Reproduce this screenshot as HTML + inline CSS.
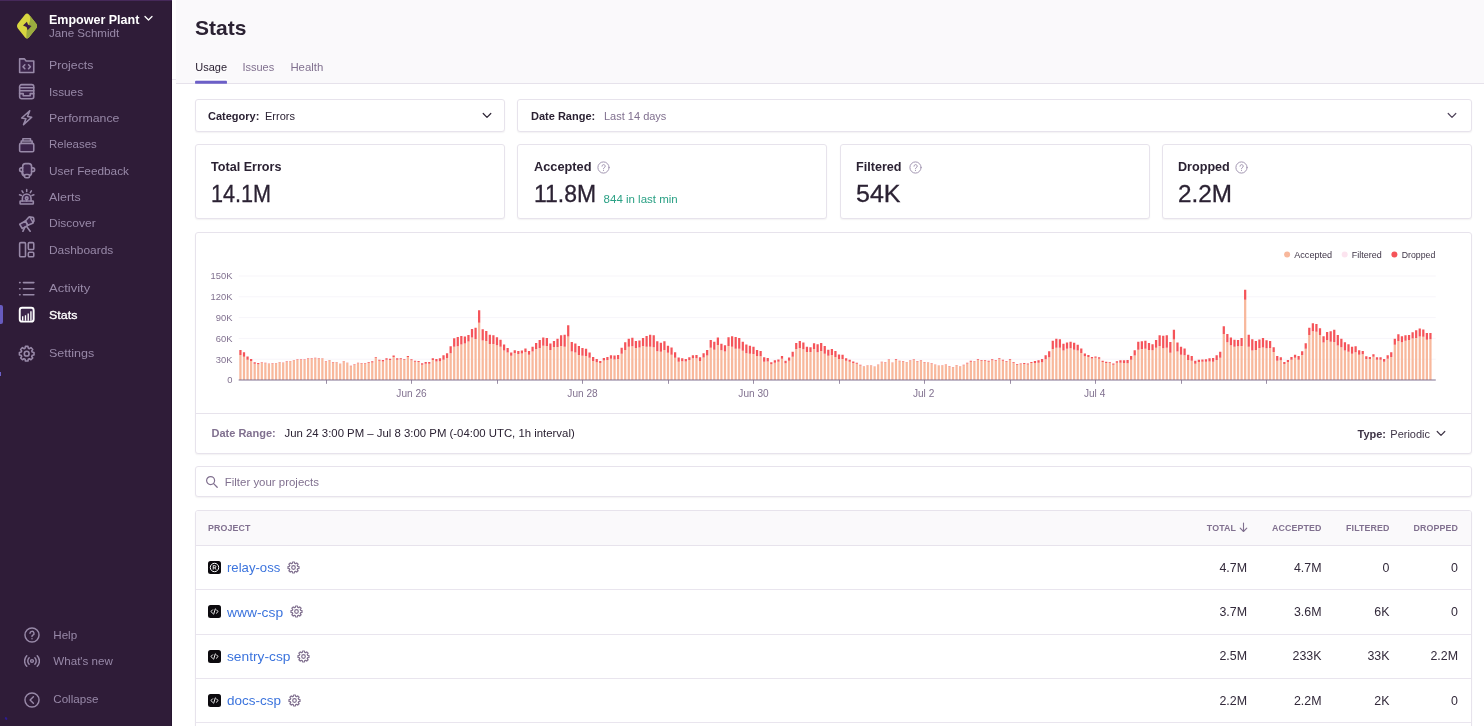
<!DOCTYPE html>
<html lang="en">
<head>
<meta charset="utf-8">
<title>Stats - Sentry</title>
<style>
*{box-sizing:border-box;margin:0;padding:0}
html,body{width:1484px;height:726px;overflow:hidden;background:#fff}
#root{position:absolute;left:0;top:0;width:1484px;height:726px;overflow:hidden;will-change:transform;transform:translateZ(0)}
body{font-family:"Liberation Sans",sans-serif;color:#2b2233;position:relative;-webkit-font-smoothing:antialiased}
.abs{position:absolute}
.t{position:absolute;white-space:nowrap;line-height:1;transform-origin:0 50%}
b,.b{font-weight:bold}
.val{-webkit-text-stroke:.3px #2b2233}
/* sidebar */
#sb{position:absolute;left:0;top:0;width:172px;height:726px;background:#2f1c38;border-right:1px solid #26152f}
#sb .nav{position:absolute;left:49.2px;color:#9889a8;font-size:11.6px;white-space:nowrap;line-height:1;transform-origin:0 50%}
#sb .nav.on{color:#fff;-webkit-text-stroke:.3px #fff}
#sb svg.ic{position:absolute;left:18.3px;width:17.4px;height:17.4px;fill:none;stroke:#9889a8;stroke-width:1.45;stroke-linecap:round;stroke-linejoin:round}
#sb svg.ic.on{stroke:#fff}
#sb svg.ic .f{fill:rgba(125,80,170,.16)}
#sb .low{position:absolute;left:53.3px;color:#9889a8;font-size:11.6px;white-space:nowrap;line-height:1}
#sb svg.lic{position:absolute;left:23.7px;width:16px;height:16px;fill:none;stroke:#9889a8;stroke-width:1.35;stroke-linecap:round;stroke-linejoin:round}
/* header */
#hd{position:absolute;left:176px;top:0;width:1308px;height:84px;background:#faf9fb;border-bottom:1px solid #e6e2eb}
.box{position:absolute;background:#fff;border:1px solid #e7e3ec;border-radius:3px;box-shadow:0 1px 1.500px rgba(43,34,51,.06)}
.sub{color:#80708f}
.chart{position:absolute;left:195px;top:232px}
.ax{font-family:"Liberation Sans",sans-serif;font-size:9.4px;fill:#80708f}
.axx{font-family:"Liberation Sans",sans-serif;font-size:10.1px;fill:#80708f}
.lg{font-family:"Liberation Sans",sans-serif;font-size:9.1px;fill:#3e3446}
.th{position:absolute;font-size:8.85px;font-weight:bold;color:#80708f;white-space:nowrap;line-height:1;letter-spacing:.1px}
.num{position:absolute;font-size:12.4px;white-space:nowrap;line-height:1;text-align:right;color:#332a3b;margin-top:.6px}
.lnk{position:absolute;left:227.1px;color:#3c74dd;font-size:13.1px;white-space:nowrap;line-height:1;transform-origin:0 50%}
.rowline{position:absolute;left:196px;width:1275px;height:1px;background:#e9e5ee}
</style>
</head>
<body>
<div id="root">

<!-- ===================== SIDEBAR ===================== -->
<div id="sb">
  <div class="abs" style="left:0;top:0;width:172px;height:1px;background:#46295a"></div>
  <svg class="abs" style="left:15px;top:12px" width="24" height="28" viewBox="0 0 24 28">
<defs><clipPath id="dm"><path d="M12 1.6c.7 0 1.3.3 1.9.9l7.2 8.9c1.2 1.5 1.2 3.7 0 5.2l-7.2 8.9c-.6.6-1.2.9-1.9.9s-1.3-.3-1.9-.9L2.9 16.6c-1.2-1.500-1.200-3.700 0-5.200l7.200-8.900c.6-.6 1.200-.9 1.900-.9z"/></clipPath></defs>
<g clip-path="url(#dm)"><rect width="24" height="28" fill="#d8d640"/>
<path d="M12.500 0c3 4 3.500 7.500 1.500 11.500-2 4-3 8-2.500 16.500H24V0z" fill="#9aab3f"/>
<path d="M11.900 9.800L8 13.600l3.500 1.300 1.200 3.400 3.800-4.300-3.400-1.200z" fill="#3a1f47"/></g></svg>
  <div class="t b" id="org" style="left:49px;top:13.6px;font-size:12.5px;color:#fff">Empower Plant</div>
  <svg class="abs" style="left:144px;top:15px" width="9" height="7" viewBox="0 0 9 7"><path d="M1 1.5l3.5 3.5L8 1.5" fill="none" stroke="#fff" stroke-width="1.3" stroke-linecap="round" stroke-linejoin="round"/></svg>
  <div class="t" id="usr" style="left:49px;top:27px;font-size:11.6px;color:#9889a8">Jane Schmidt</div>
  <svg class="ic" style="top:56.70px" viewBox="0 0 16 16"><path class="f" d="M1.500 1.700h4.300l1.700 2h7v10.600h-13z"/><path d="M6.300 7.200L4.600 9l1.700 1.800M9.700 7.200L11.400 9l-1.700 1.800"/></svg>
<div class="nav" id="n_Projects" style="top:59.18px;transform:translateY(0.20px) scaleX(1.059)">Projects</div>
<svg class="ic" style="top:83.05px" viewBox="0 0 16 16"><rect class="f" x="1.500" y="1.500" width="13" height="13" rx="1.800"/><path d="M1.500 4.300h13M1.500 7.200h13M1.500 9.800h3.300v1.900h6.400V9.800h3.300"/></svg>
<div class="nav" id="n_Issues" style="top:85.18px;transform:translateY(0.50px) scaleX(1.016)">Issues</div>
<svg class="ic" style="top:109.40px" viewBox="0 0 16 16"><path d="M10.800 1.600L3.400 8.300l3.900.7-2.200 5.400 7.500-6.800-3.900-.7z"/></svg>
<div class="nav" id="n_Performance" style="top:112.18px;transform:translateY(0.00px) scaleX(1.061)">Performance</div>
<svg class="ic" style="top:135.75px" viewBox="0 0 16 16"><rect class="f" x="1.500" y="6.800" width="13" height="7.700" rx="1.200"/><path d="M3 6.800V4.600h10v2.200M4.500 4.600V2.500h7v2.100"/></svg>
<div class="nav" id="n_Releases" style="top:138.18px;transform:translateY(0.10px) scaleX(0.988)">Releases</div>
<svg class="ic" style="top:162.10px" viewBox="0 0 16 16"><rect class="f" x="4.300" y="1.500" width="8.200" height="11" rx="2.600"/><path d="M4.300 5.400H3.200a1.700 1.700 0 0 0 0 3.400h1.100M12.500 5.400h1.100a1.700 1.700 0 0 1 0 3.400h-1.100M3.600 8.800c0 2.600 1 4 2.400 4.300"/><rect x="6" y="11.500" width="4.600" height="3" rx="1.300" fill="#2f1c38"/></svg>
<div class="nav" id="n_UserFeedback" style="top:164.18px;transform:translateY(0.70px) scaleX(1.017)">User Feedback</div>
<svg class="ic" style="top:188.45px" viewBox="0 0 16 16"><rect class="f" x="1.900" y="12" width="12.200" height="2.700" rx=".5"/><path class="f" d="M4 12V9.600a4 4 0 0 1 8 0V12"/><path d="M8 1.400v1.900M3.700 2.700l1 1.500M12.300 2.700l-1 1.500M1.400 6.300l1.800.5M14.600 6.300l-1.800.5M8 10.600V12"/><circle cx="8" cy="9.400" r="1.200"/></svg>
<div class="nav" id="n_Alerts" style="top:190.18px;transform:translateY(0.90px) scaleX(1.069)">Alerts</div>
<svg class="ic" style="top:214.80px" viewBox="0 0 16 16"><path class="f" d="M1.600 8.500l5.200-3 2.300 4-5.200 3z"/><path class="f" d="M6.800 5.500l3.300-3.600c.3-.3.700-.3.900 0l2.800 4.900c.2.300 0 .7-.3.800L9.100 9.500z"/><path d="M11.400 1.900l2.200.3c.4 0 .7.300.8.700l.3 2.700-1 1.200M6.500 11l-2 4M7.800 10.400l3.400 4.600"/></svg>
<div class="nav" id="n_Discover" style="top:217.18px;transform:translateY(0.10px) scaleX(1.034)">Discover</div>
<svg class="ic" style="top:241.15px" viewBox="0 0 16 16"><rect x="1.500" y="1.500" width="5.400" height="13" rx="1"/><rect x="9.500" y="1.500" width="5" height="6.300" rx="1"/><rect x="9.500" y="10.400" width="5" height="4.100" rx="1"/></svg>
<div class="nav" id="n_Dashboards" style="top:243.18px;transform:translateY(0.50px) scaleX(1.028)">Dashboards</div>
<svg class="ic" style="top:280.10px" viewBox="0 0 16 16"><path d="M5 2.400h9.600M5 8h9.600M5 13.600h9.600M1.500 2.400h.4M1.500 8h.4M1.500 13.600h.4"/></svg>
<div class="nav" id="n_Activity" style="top:282.18px;transform:translateY(0.10px) scaleX(1.120)">Activity</div>
<svg class="ic on" style="top:306.35px" viewBox="0 0 16 16"><rect class="f" x="1.600" y="1.600" width="12.800" height="12.800" rx="2.200" stroke-width="1.750"/><path d="M4.300 13.500V9.500M6.900 13.500V8.400M9.400 13.500V6.900M11.900 13.500V4.800" stroke-width="1.250" stroke-linecap="butt"/></svg>
<div class="nav on" id="n_Stats" style="top:308.18px;transform:translateY(0.60px) scaleX(1.073)">Stats</div>
<svg class="ic" style="top:345.10px" viewBox="0 0 16 16"><path d="M6.83 1.30L9.17 1.30L9.48 2.91L10.55 3.36L11.91 2.44L13.56 4.09L12.64 5.45L13.09 6.52L14.70 6.83L14.70 9.17L13.09 9.48L12.64 10.55L13.56 11.91L11.91 13.56L10.55 12.64L9.48 13.09L9.17 14.70L6.83 14.70L6.52 13.09L5.45 12.64L4.09 13.56L2.44 11.91L3.36 10.55L2.91 9.48L1.30 9.17L1.30 6.83L2.91 6.52L3.36 5.45L2.44 4.09L4.09 2.44L5.45 3.36L6.52 2.91z"/><circle cx="8" cy="8" r="2.200"/></svg>
<div class="nav" id="n_Settings" style="top:347.18px;transform:translateY(0.30px) scaleX(1.080)">Settings</div>
<svg class="lic" style="top:626.70px" viewBox="0 0 15 15"><circle cx="7.500" cy="7.500" r="6.600"/><path d="M5.600 5.900a1.900 1.900 0 1 1 2.700 1.800c-.6.300-.8.700-.8 1.300"/><path d="M7.500 10.900v.1"/></svg>
<div class="low" id="l_Help" style="top:628.18px;transform:translateY(0.60px)">Help</div>
<svg class="lic" style="top:653.10px" viewBox="0 0 15 15"><circle cx="7.500" cy="7.500" r="1.300"/><path d="M4.800 4.500a4.200 4.200 0 0 0 0 6M10.200 4.500a4.200 4.200 0 0 1 0 6M2.600 2.500a7.100 7.100 0 0 0 0 10M12.400 2.500a7.100 7.100 0 0 1 0 10"/></svg>
<div class="low" id="l_What" style="top:654.18px;transform:translateY(0.60px)">What's new</div>
<svg class="lic" style="top:691.80px" viewBox="0 0 15 15"><circle cx="7.500" cy="7.500" r="6.600"/><path d="M8.800 4.500L5.700 7.500l3.100 3"/></svg>
<div class="low" id="l_Coll" style="top:693.18px;transform:translateY(0.10px)">Collapse</div>
  <div class="abs" style="left:5px;top:717.4px;width:2.2px;height:2.8px;background:#2d1b8f;border-radius:1px;transform:rotate(-35deg)"></div>
  <div class="abs" style="left:0;top:372px;width:1px;height:4px;background:#6c5fc7"></div>
  <div class="abs" style="left:0;top:305px;width:2.5px;height:18.5px;background:#675bbf;border-radius:0 2px 2px 0"></div>
</div>

<!-- ===================== HEADER ===================== -->
<div id="hd"></div>
<div class="t b" id="title" style="left:195px;top:17px;font-size:21px">Stats</div>
<div class="t" id="tab1" style="left:195.3px;top:61.8px;font-size:11px">Usage</div>
<div class="t sub" id="tab2" style="left:242.4px;top:61.8px;font-size:11px">Issues</div>
<div class="t sub" id="tab3" style="left:290.4px;top:61.8px;font-size:11.4px">Health</div>
<div class="abs" style="left:172px;top:79px;width:4px;height:1px;background:#ebe8ef"></div>
<div class="abs" style="left:195px;top:79px;width:32px;height:1px;background:#fff"></div>
<svg class="abs" style="left:194px;top:79px" width="34" height="6" viewBox="194 79 34 6"><rect x="195.07" y="80.7" width="31.9" height="3.1" rx=".9" fill="#6c5fc7"/></svg>

<!-- ===================== FILTERS ===================== -->
<div class="box" style="left:195px;top:99px;width:310px;height:33px"></div>
<div class="box" style="left:517px;top:99px;width:955px;height:33px"></div>
<div class="t b" id="f1a" style="left:208px;top:110.7px;font-size:11px">Category:</div>
<div class="t" id="f1b" style="left:265px;top:110.7px;font-size:11px">Errors</div>
<svg class="abs" style="left:482px;top:112px" width="10" height="7" viewBox="0 0 10 7"><path d="M1.2 1.5L5 5.3 8.8 1.5" fill="none" stroke="#2b2233" stroke-width="1.2" stroke-linecap="round" stroke-linejoin="round"/></svg>
<div class="t b" id="f2a" style="left:531px;top:110.7px;font-size:11px">Date Range:</div>
<div class="t sub" id="f2b" style="left:604px;top:110.7px;font-size:11px">Last 14 days</div>
<svg class="abs" style="left:1447px;top:112px" width="10" height="7" viewBox="0 0 10 7"><path d="M1.2 1.5L5 5.3 8.8 1.5" fill="none" stroke="#4d4158" stroke-width="1.2" stroke-linecap="round" stroke-linejoin="round"/></svg>

<!-- ===================== CARDS ===================== -->
<div class="box" style="left:195px;top:144px;width:310px;height:75px"></div>
<div class="box" style="left:517px;top:144px;width:310px;height:75px"></div>
<div class="box" style="left:840px;top:144px;width:310px;height:75px"></div>
<div class="box" style="left:1162px;top:144px;width:310px;height:75px"></div>

<div class="t b" id="c1t" style="left:211px;top:160.5px;font-size:12.6px">Total Errors</div>
<div id="c1v" class="t val" style="left:211.3px;top:181.6px;font-size:24.4px;transform:scaleX(.887)">14.1M</div>
<div class="t b" id="c2t" style="left:533.7px;transform:scaleX(1.015);top:160.5px;font-size:12.6px">Accepted</div>
<div id="c2v" class="t val" style="left:533.6px;top:181.6px;font-size:24.4px;transform:scaleX(.94)">11.8M</div>
<div class="t" id="c2s" style="left:603.6px;top:193.6px;font-size:11.5px;color:#2ba185">844 in last min</div>
<div class="t b" id="c3t" style="left:856px;top:160.5px;font-size:12.6px">Filtered</div>
<div id="c3v" class="t val" style="left:856.2px;top:181.6px;font-size:24.4px;transform:scaleX(1.025)">54K</div>
<div class="t b" id="c4t" style="left:1178px;top:160.5px;font-size:12.6px">Dropped</div>
<div id="c4v" class="t val" style="left:1178.2px;top:181.6px;font-size:24.4px;transform:scaleX(.995)">2.2M</div>
<svg class="abs" style="left:597.4px;top:160.7px" width="13" height="13" viewBox="0 0 13 13" fill="none" stroke="#a296b1" stroke-width="1" stroke-linecap="round"><circle cx="6.500" cy="6.500" r="5.600"/><path d="M5 5.200a1.600 1.600 0 1 1 2.200 1.500c-.5.200-.7.600-.7 1.100"/><path d="M6.500 9.400v.1"/></svg>
<svg class="abs" style="left:908.5px;top:160.7px" width="13" height="13" viewBox="0 0 13 13" fill="none" stroke="#a296b1" stroke-width="1" stroke-linecap="round"><circle cx="6.500" cy="6.500" r="5.600"/><path d="M5 5.200a1.600 1.600 0 1 1 2.200 1.500c-.5.200-.7.600-.7 1.100"/><path d="M6.500 9.400v.1"/></svg>
<svg class="abs" style="left:1235.2px;top:160.7px" width="13" height="13" viewBox="0 0 13 13" fill="none" stroke="#a296b1" stroke-width="1" stroke-linecap="round"><circle cx="6.500" cy="6.500" r="5.600"/><path d="M5 5.200a1.600 1.600 0 1 1 2.200 1.500c-.5.200-.7.600-.7 1.100"/><path d="M6.500 9.400v.1"/></svg>

<!-- ===================== CHART PANEL ===================== -->
<div class="box" style="left:195px;top:232px;width:1277px;height:222px"></div>
<svg class="chart" width="1276" height="181" viewBox="195 232 1276 181">
<rect x="238.65" y="358.7" width="1197.13" height="1" fill="#f7f5fa"/>
<rect x="238.65" y="337.9" width="1197.13" height="1" fill="#f7f5fa"/>
<rect x="238.65" y="317.1" width="1197.13" height="1" fill="#f7f5fa"/>
<rect x="238.65" y="296.3" width="1197.13" height="1" fill="#f7f5fa"/>
<rect x="238.65" y="275.5" width="1197.13" height="1" fill="#f7f5fa"/>
<path fill="#f8b89c" d="M239.31 380.00v-25.10h2.25v25.10zM242.87 380.00v-23.15h2.25v23.15zM246.43 380.00v-20.15h2.25v20.15zM250.00 380.00v-18.95h2.25v18.95zM253.56 380.00v-16.15h2.25v16.15zM257.12 380.00v-15.85h2.25v15.85zM260.68 380.00v-17.35h2.25v17.35zM264.25 380.00v-16.85h2.25v16.85zM267.81 380.00v-16.15h2.25v16.15zM271.37 380.00v-16.35h2.25v16.35zM274.94 380.00v-16.75h2.25v16.75zM278.50 380.00v-17.75h2.25v17.75zM282.06 380.00v-17.25h2.25v17.25zM285.62 380.00v-18.35h2.25v18.35zM289.19 380.00v-18.65h2.25v18.65zM292.75 380.00v-19.65h2.25v19.65zM296.31 380.00v-20.25h2.25v20.25zM299.88 380.00v-20.25h2.25v20.25zM303.44 380.00v-20.05h2.25v20.05zM307.00 380.00v-21.35h2.25v21.35zM310.56 380.00v-21.35h2.25v21.35zM314.13 380.00v-21.65h2.25v21.65zM317.69 380.00v-21.15h2.25v21.15zM321.25 380.00v-21.45h2.25v21.45zM324.82 380.00v-18.25h2.25v18.25zM328.38 380.00v-19.65h2.25v19.65zM331.94 380.00v-17.55h2.25v17.55zM335.50 380.00v-17.65h2.25v17.65zM339.07 380.00v-15.95h2.25v15.95zM342.63 380.00v-18.65h2.25v18.65zM346.19 380.00v-16.95h2.25v16.95zM349.76 380.00v-13.85h2.25v13.85zM353.32 380.00v-15.35h2.25v15.35zM356.88 380.00v-16.75h2.25v16.75zM360.45 380.00v-16.55h2.25v16.55zM364.01 380.00v-16.55h2.25v16.55zM367.57 380.00v-17.35h2.25v17.35zM371.13 380.00v-17.55h2.25v17.55zM374.70 380.00v-21.95h2.25v21.95zM378.26 380.00v-19.15h2.25v19.15zM381.82 380.00v-18.45h2.25v18.45zM385.39 380.00v-20.15h2.25v20.15zM388.95 380.00v-19.95h2.25v19.95zM392.51 380.00v-22.95h2.25v22.95zM396.07 380.00v-20.15h2.25v20.15zM399.64 380.00v-20.65h2.25v20.65zM403.20 380.00v-19.95h2.25v19.95zM406.76 380.00v-22.95h2.25v22.95zM410.33 380.00v-19.85h2.25v19.85zM413.89 380.00v-18.15h2.25v18.15zM417.45 380.00v-17.95h2.25v17.95zM421.01 380.00v-15.15h2.25v15.15zM424.58 380.00v-16.25h2.25v16.25zM428.14 380.00v-16.35h2.25v16.35zM431.70 380.00v-19.95h2.25v19.95zM435.27 380.00v-18.45h2.25v18.45zM438.83 380.00v-18.75h2.25v18.75zM442.39 380.00v-20.35h2.25v20.35zM445.95 380.00v-22.05h2.25v22.05zM449.52 380.00v-26.75h2.25v26.75zM453.08 380.00v-33.25h2.25v33.25zM456.64 380.00v-33.85h2.25v33.85zM460.21 380.00v-35.55h2.25v35.55zM463.77 380.00v-36.55h2.25v36.55zM467.33 380.00v-38.55h2.25v38.55zM470.89 380.00v-42.55h2.25v42.55zM474.46 380.00v-41.05h2.25v41.05zM478.02 380.00v-57.20h2.25v57.20zM481.58 380.00v-39.50h2.25v39.50zM485.15 380.00v-39.00h2.25v39.00zM488.71 380.00v-36.10h2.25v36.10zM492.27 380.00v-36.10h2.25v36.10zM495.84 380.00v-34.70h2.25v34.70zM499.40 380.00v-33.20h2.25v33.20zM502.96 380.00v-29.50h2.25v29.50zM506.52 380.00v-27.40h2.25v27.40zM510.09 380.00v-24.30h2.25v24.30zM513.65 380.00v-27.10h2.25v27.10zM517.21 380.00v-26.10h2.25v26.10zM520.78 380.00v-26.40h2.25v26.40zM524.34 380.00v-27.90h2.25v27.90zM527.90 380.00v-25.30h2.25v25.30zM531.46 380.00v-28.50h2.25v28.50zM535.03 380.00v-31.00h2.25v31.00zM538.59 380.00v-32.10h2.25v32.10zM542.15 380.00v-34.20h2.25v34.20zM545.72 380.00v-34.00h2.25v34.00zM549.28 380.00v-30.00h2.25v30.00zM552.84 380.00v-32.90h2.25v32.90zM556.40 380.00v-33.10h2.25v33.10zM559.97 380.00v-34.00h2.25v34.00zM563.53 380.00v-33.20h2.25v33.20zM567.09 380.00v-43.60h2.25v43.60zM570.66 380.00v-28.50h2.25v28.50zM574.22 380.00v-27.40h2.25v27.40zM577.78 380.00v-25.00h2.25v25.00zM581.34 380.00v-24.20h2.25v24.20zM584.91 380.00v-24.00h2.25v24.00zM588.47 380.00v-22.20h2.25v22.20zM592.03 380.00v-19.00h2.25v19.00zM595.60 380.00v-17.70h2.25v17.70zM599.16 380.00v-16.90h2.25v16.90zM602.72 380.00v-19.40h2.25v19.40zM606.29 380.00v-20.10h2.25v20.10zM609.85 380.00v-21.30h2.25v21.30zM613.41 380.00v-20.60h2.25v20.60zM616.97 380.00v-21.10h2.25v21.10zM620.54 380.00v-26.30h2.25v26.30zM624.10 380.00v-30.05h2.25v30.05zM627.66 380.00v-33.15h2.25v33.15zM631.23 380.00v-33.85h2.25v33.85zM634.79 380.00v-31.95h2.25v31.95zM638.35 380.00v-32.45h2.25v32.45zM641.91 380.00v-34.05h2.25v34.05zM645.48 380.00v-33.15h2.25v33.15zM649.04 380.00v-33.15h2.25v33.15zM652.60 380.00v-32.85h2.25v32.85zM656.17 380.00v-28.85h2.25v28.85zM659.73 380.00v-28.25h2.25v28.25zM663.29 380.00v-29.95h2.25v29.95zM666.85 380.00v-27.15h2.25v27.15zM670.42 380.00v-25.25h2.25v25.25zM673.98 380.00v-22.15h2.25v22.15zM677.54 380.00v-18.25h2.25v18.25zM681.11 380.00v-18.75h2.25v18.75zM684.67 380.00v-18.45h2.25v18.45zM688.23 380.00v-20.05h2.25v20.05zM691.79 380.00v-21.75h2.25v21.75zM695.36 380.00v-21.65h2.25v21.65zM698.92 380.00v-19.05h2.25v19.05zM702.48 380.00v-22.45h2.25v22.45zM706.05 380.00v-24.45h2.25v24.45zM709.61 380.00v-32.25h2.25v32.25zM713.17 380.00v-30.35h2.25v30.35zM716.74 380.00v-34.95h2.25v34.95zM720.30 380.00v-29.75h2.25v29.75zM723.86 380.00v-28.55h2.25v28.55zM727.42 380.00v-34.05h2.25v34.05zM730.99 380.00v-33.15h2.25v33.15zM734.55 380.00v-31.35h2.25v31.35zM738.11 380.00v-31.35h2.25v31.35zM741.68 380.00v-29.15h2.25v29.15zM745.24 380.00v-26.75h2.25v26.75zM748.80 380.00v-26.15h2.25v26.15zM752.36 380.00v-26.05h2.25v26.05zM755.93 380.00v-24.05h2.25v24.05zM759.49 380.00v-23.75h2.25v23.75zM763.05 380.00v-18.25h2.25v18.25zM766.62 380.00v-18.45h2.25v18.45zM770.18 380.00v-15.75h2.25v15.75zM773.74 380.00v-17.25h2.25v17.25zM777.30 380.00v-18.15h2.25v18.15zM780.87 380.00v-21.25h2.25v21.25zM784.43 380.00v-16.65h2.25v16.65zM787.99 380.00v-19.15h2.25v19.15zM791.56 380.00v-23.35h2.25v23.35zM795.12 380.00v-31.05h2.25v31.05zM798.68 380.00v-31.95h2.25v31.95zM802.24 380.00v-30.85h2.25v30.85zM805.81 380.00v-27.95h2.25v27.95zM809.37 380.00v-28.05h2.25v28.05zM812.93 380.00v-31.05h2.25v31.05zM816.50 380.00v-27.85h2.25v27.85zM820.06 380.00v-28.95h2.25v28.95zM823.62 380.00v-26.25h2.25v26.25zM827.18 380.00v-24.25h2.25v24.25zM830.75 380.00v-24.95h2.25v24.95zM834.31 380.00v-23.05h2.25v23.05zM837.87 380.00v-21.05h2.25v21.05zM841.44 380.00v-21.05h2.25v21.05zM845.00 380.00v-19.15h2.25v19.15zM848.56 380.00v-18.25h2.25v18.25zM852.13 380.00v-17.05h2.25v17.05zM855.69 380.00v-16.25h2.25v16.25zM859.25 380.00v-14.55h2.25v14.55zM862.81 380.00v-13.55h2.25v13.55zM866.38 380.00v-14.55h2.25v14.55zM869.94 380.00v-14.55h2.25v14.55zM873.50 380.00v-13.15h2.25v13.15zM877.07 380.00v-15.15h2.25v15.15zM880.63 380.00v-17.75h2.25v17.75zM884.19 380.00v-17.35h2.25v17.35zM887.75 380.00v-20.05h2.25v20.05zM891.32 380.00v-17.15h2.25v17.15zM894.88 380.00v-20.35h2.25v20.35zM898.44 380.00v-18.65h2.25v18.65zM902.01 380.00v-18.55h2.25v18.55zM905.57 380.00v-17.65h2.25v17.65zM909.13 380.00v-19.05h2.25v19.05zM912.69 380.00v-20.25h2.25v20.25zM916.26 380.00v-18.55h2.25v18.55zM919.82 380.00v-19.35h2.25v19.35zM923.38 380.00v-17.55h2.25v17.55zM926.95 380.00v-17.45h2.25v17.45zM930.51 380.00v-16.35h2.25v16.35zM934.07 380.00v-15.25h2.25v15.25zM937.63 380.00v-14.25h2.25v14.25zM941.20 380.00v-14.55h2.25v14.55zM944.76 380.00v-15.45h2.25v15.45zM948.32 380.00v-13.35h2.25v13.35zM951.89 380.00v-12.65h2.25v12.65zM955.45 380.00v-14.65h2.25v14.65zM959.01 380.00v-13.55h2.25v13.55zM962.58 380.00v-14.85h2.25v14.85zM966.14 380.00v-16.55h2.25v16.55zM969.70 380.00v-18.35h2.25v18.35zM973.26 380.00v-18.15h2.25v18.15zM976.83 380.00v-19.95h2.25v19.95zM980.39 380.00v-19.25h2.25v19.25zM983.95 380.00v-19.05h2.25v19.05zM987.52 380.00v-18.35h2.25v18.35zM991.08 380.00v-19.85h2.25v19.85zM994.64 380.00v-19.05h2.25v19.05zM998.20 380.00v-20.95h2.25v20.95zM1001.77 380.00v-19.35h2.25v19.35zM1005.33 380.00v-18.05h2.25v18.05zM1008.89 380.00v-20.15h2.25v20.15zM1012.46 380.00v-17.25h2.25v17.25zM1016.02 380.00v-15.25h2.25v15.25zM1019.58 380.00v-15.75h2.25v15.75zM1023.14 380.00v-16.05h2.25v16.05zM1026.71 380.00v-15.45h2.25v15.45zM1030.27 380.00v-16.95h2.25v16.95zM1033.83 380.00v-16.95h2.25v16.95zM1037.40 380.00v-17.25h2.25v17.25zM1040.96 380.00v-17.85h2.25v17.85zM1044.52 380.00v-20.85h2.25v20.85zM1048.08 380.00v-22.65h2.25v22.65zM1051.65 380.00v-31.05h2.25v31.05zM1055.21 380.00v-32.25h2.25v32.25zM1058.77 380.00v-32.25h2.25v32.25zM1062.34 380.00v-29.45h2.25v29.45zM1065.90 380.00v-31.35h2.25v31.35zM1069.46 380.00v-31.75h2.25v31.75zM1073.03 380.00v-30.35h2.25v30.35zM1076.59 380.00v-29.45h2.25v29.45zM1080.15 380.00v-26.95h2.25v26.95zM1083.71 380.00v-23.75h2.25v23.75zM1087.28 380.00v-23.05h2.25v23.05zM1090.84 380.00v-21.45h2.25v21.45zM1094.40 380.00v-22.15h2.25v22.15zM1097.97 380.00v-21.25h2.25v21.25zM1101.53 380.00v-18.05h2.25v18.05zM1105.09 380.00v-17.05h2.25v17.05zM1108.65 380.00v-17.15h2.25v17.15zM1112.22 380.00v-15.25h2.25v15.25zM1115.78 380.00v-17.15h2.25v17.15zM1119.34 380.00v-17.25h2.25v17.25zM1122.91 380.00v-17.05h2.25v17.05zM1126.47 380.00v-16.85h2.25v16.85zM1130.03 380.00v-20.25h2.25v20.25zM1133.59 380.00v-24.45h2.25v24.45zM1137.16 380.00v-30.35h2.25v30.35zM1140.72 380.00v-31.05h2.25v31.05zM1144.28 380.00v-31.35h2.25v31.35zM1147.85 380.00v-30.05h2.25v30.05zM1151.41 380.00v-29.85h2.25v29.85zM1154.97 380.00v-32.25h2.25v32.25zM1158.53 380.00v-34.05h2.25v34.05zM1162.10 380.00v-31.65h2.25v31.65zM1165.66 380.00v-32.25h2.25v32.25zM1169.22 380.00v-27.25h2.25v27.25zM1172.79 380.00v-40.55h2.25v40.55zM1176.35 380.00v-28.55h2.25v28.55zM1179.91 380.00v-25.35h2.25v25.35zM1183.47 380.00v-24.85h2.25v24.85zM1187.04 380.00v-20.05h2.25v20.05zM1190.60 380.00v-19.35h2.25v19.35zM1194.16 380.00v-16.25h2.25v16.25zM1197.73 380.00v-18.05h2.25v18.05zM1201.29 380.00v-18.15h2.25v18.15zM1204.85 380.00v-18.15h2.25v18.15zM1208.42 380.00v-18.45h2.25v18.45zM1211.98 380.00v-18.15h2.25v18.15zM1215.54 380.00v-20.05h2.25v20.05zM1219.10 380.00v-22.35h2.25v22.35zM1222.67 380.00v-45.95h2.25v45.95zM1226.23 380.00v-37.75h2.25v37.75zM1229.79 380.00v-34.65h2.25v34.65zM1233.36 380.00v-33.15h2.25v33.15zM1236.92 380.00v-33.65h2.25v33.65zM1240.48 380.00v-34.05h2.25v34.05zM1244.04 380.00v-80.15h2.25v80.15zM1247.61 380.00v-33.15h2.25v33.15zM1251.17 380.00v-29.45h2.25v29.45zM1254.73 380.00v-29.95h2.25v29.95zM1258.30 380.00v-31.95h2.25v31.95zM1261.86 380.00v-32.55h2.25v32.55zM1265.42 380.00v-31.75h2.25v31.75zM1268.98 380.00v-31.95h2.25v31.95zM1272.55 380.00v-27.95h2.25v27.95zM1276.11 380.00v-19.35h2.25v19.35zM1279.67 380.00v-19.65h2.25v19.65zM1283.24 380.00v-16.05h2.25v16.05zM1286.80 380.00v-18.05h2.25v18.05zM1290.36 380.00v-20.35h2.25v20.35zM1293.92 380.00v-22.15h2.25v22.15zM1297.49 380.00v-20.25h2.25v20.25zM1301.05 380.00v-24.95h2.25v24.95zM1304.61 380.00v-31.35h2.25v31.35zM1308.18 380.00v-45.05h2.25v45.05zM1311.74 380.00v-48.75h2.25v48.75zM1315.30 380.00v-48.25h2.25v48.25zM1318.87 380.00v-45.05h2.25v45.05zM1322.43 380.00v-37.45h2.25v37.45zM1325.99 380.00v-39.95h2.25v39.95zM1329.55 380.00v-38.25h2.25v38.25zM1333.12 380.00v-38.05h2.25v38.05zM1336.68 380.00v-34.55h2.25v34.55zM1340.24 380.00v-32.65h2.25v32.65zM1343.81 380.00v-29.55h2.25v29.55zM1347.37 380.00v-28.25h2.25v28.25zM1350.93 380.00v-26.25h2.25v26.25zM1354.49 380.00v-27.65h2.25v27.65zM1358.06 380.00v-25.15h2.25v25.15zM1361.62 380.00v-25.85h2.25v25.85zM1365.18 380.00v-21.05h2.25v21.05zM1368.75 380.00v-20.95h2.25v20.95zM1372.31 380.00v-23.15h2.25v23.15zM1375.87 380.00v-20.25h2.25v20.25zM1379.43 380.00v-20.25h2.25v20.25zM1383.00 380.00v-18.25h2.25v18.25zM1386.56 380.00v-21.25h2.25v21.25zM1390.12 380.00v-23.05h2.25v23.05zM1393.69 380.00v-35.25h2.25v35.25zM1397.25 380.00v-38.95h2.25v38.95zM1400.81 380.00v-37.75h2.25v37.75zM1404.37 380.00v-39.25h2.25v39.25zM1407.94 380.00v-40.05h2.25v40.05zM1411.50 380.00v-41.45h2.25v41.45zM1415.06 380.00v-42.05h2.25v42.05zM1418.63 380.00v-43.55h2.25v43.55zM1422.19 380.00v-43.15h2.25v43.15zM1425.75 380.00v-40.25h2.25v40.25zM1429.32 380.00v-40.75h2.25v40.75z"/>
<path fill="#f55459" d="M239.31 354.90v-4.80h2.25v4.80zM242.87 356.85v-4.70h2.25v4.70zM246.43 359.85v-3.30h2.25v3.30zM250.00 361.05v-2.10h2.25v2.10zM253.56 363.85v-1.70h2.25v1.70zM257.12 364.15v-1.10h2.25v1.10zM260.68 362.65v-0.50h2.25v0.50zM264.25 363.15v-0.40h2.25v0.40zM267.81 363.85v-0.30h2.25v0.30zM271.37 363.65v-0.30h2.25v0.30zM274.94 363.25v-0.30h2.25v0.30zM278.50 362.25v-0.30h2.25v0.30zM282.06 362.75v-0.30h2.25v0.30zM285.62 361.65v-0.30h2.25v0.30zM289.19 361.35v-0.30h2.25v0.30zM292.75 360.35v-0.30h2.25v0.30zM296.31 359.75v-0.40h2.25v0.40zM299.88 359.75v-0.50h2.25v0.50zM303.44 359.95v-0.50h2.25v0.50zM307.00 358.65v-0.50h2.25v0.50zM310.56 358.65v-0.50h2.25v0.50zM314.13 358.35v-0.50h2.25v0.50zM317.69 358.85v-0.50h2.25v0.50zM321.25 358.55v-0.40h2.25v0.40zM324.82 361.75v-0.40h2.25v0.40zM328.38 360.35v-0.30h2.25v0.30zM331.94 362.45v-0.40h2.25v0.40zM335.50 362.35v-0.40h2.25v0.40zM339.07 364.05v-0.30h2.25v0.30zM342.63 361.35v-0.30h2.25v0.30zM346.19 363.05v-0.30h2.25v0.30zM349.76 366.15v-0.30h2.25v0.30zM353.32 364.65v-0.30h2.25v0.30zM356.88 363.25v-0.40h2.25v0.40zM360.45 363.45v-0.40h2.25v0.40zM364.01 363.45v-0.40h2.25v0.40zM367.57 362.65v-0.70h2.25v0.70zM371.13 362.45v-1.10h2.25v1.10zM374.70 358.05v-0.80h2.25v0.80zM378.26 360.85v-1.20h2.25v1.20zM381.82 361.55v-1.50h2.25v1.50zM385.39 359.85v-1.70h2.25v1.70zM388.95 360.05v-1.40h2.25v1.40zM392.51 357.05v-1.60h2.25v1.60zM396.07 359.85v-1.70h2.25v1.70zM399.64 359.35v-1.20h2.25v1.20zM403.20 360.05v-0.90h2.25v0.90zM406.76 357.05v-1.00h2.25v1.00zM410.33 360.15v-0.90h2.25v0.90zM413.89 361.85v-1.00h2.25v1.00zM417.45 362.05v-1.00h2.25v1.00zM421.01 364.85v-1.50h2.25v1.50zM424.58 363.75v-1.70h2.25v1.70zM428.14 363.65v-1.60h2.25v1.60zM431.70 360.05v-1.90h2.25v1.90zM435.27 361.55v-2.50h2.25v2.50zM438.83 361.25v-3.10h2.25v3.10zM442.39 359.65v-4.40h2.25v4.40zM445.95 357.95v-4.70h2.25v4.70zM449.52 353.25v-7.10h2.25v7.10zM453.08 346.75v-8.50h2.25v8.50zM456.64 346.15v-9.10h2.25v9.10zM460.21 344.45v-8.40h2.25v8.40zM463.77 343.45v-6.90h2.25v6.90zM467.33 341.45v-6.50h2.25v6.50zM470.89 337.45v-8.40h2.25v8.40zM474.46 338.95v-11.30h2.25v11.30zM478.02 322.80v-12.60h2.25v12.60zM481.58 340.50v-11.30h2.25v11.30zM485.15 341.00v-9.90h2.25v9.90zM488.71 343.90v-9.10h2.25v9.10zM492.27 343.90v-8.60h2.25v8.60zM495.84 345.30v-8.10h2.25v8.10zM499.40 346.80v-7.10h2.25v7.10zM502.96 350.50v-6.00h2.25v6.00zM506.52 352.60v-4.50h2.25v4.50zM510.09 355.70v-3.30h2.25v3.30zM513.65 352.90v-2.70h2.25v2.70zM517.21 353.90v-2.90h2.25v2.90zM520.78 353.60v-3.10h2.25v3.10zM524.34 352.10v-3.60h2.25v3.60zM527.90 354.70v-3.70h2.25v3.70zM531.46 351.50v-4.70h2.25v4.70zM535.03 349.00v-6.10h2.25v6.10zM538.59 347.90v-7.90h2.25v7.90zM542.15 345.80v-8.20h2.25v8.20zM545.72 346.00v-7.90h2.25v7.90zM549.28 350.00v-6.60h2.25v6.60zM552.84 347.10v-6.00h2.25v6.00zM556.40 346.90v-8.10h2.25v8.10zM559.97 346.00v-10.70h2.25v10.70zM563.53 346.80v-12.00h2.25v12.00zM567.09 336.40v-11.20h2.25v11.20zM570.66 351.50v-9.40h2.25v9.40zM574.22 352.60v-9.20h2.25v9.20zM577.78 355.00v-9.00h2.25v9.00zM581.34 355.80v-7.90h2.25v7.90zM584.91 356.00v-7.30h2.25v7.30zM588.47 357.80v-5.20h2.25v5.20zM592.03 361.00v-4.00h2.25v4.00zM595.60 362.30v-3.20h2.25v3.20zM599.16 363.10v-2.10h2.25v2.10zM602.72 360.60v-2.60h2.25v2.60zM606.29 359.90v-2.80h2.25v2.80zM609.85 358.70v-3.50h2.25v3.50zM613.41 359.40v-3.90h2.25v3.90zM616.97 358.90v-4.00h2.25v4.00zM620.54 353.70v-6.00h2.25v6.00zM624.10 349.95v-7.60h2.25v7.60zM627.66 346.85v-8.20h2.25v8.20zM631.23 346.15v-8.50h2.25v8.50zM634.79 348.05v-7.00h2.25v7.00zM638.35 347.55v-7.10h2.25v7.10zM641.91 345.95v-8.00h2.25v8.00zM645.48 346.85v-10.80h2.25v10.80zM649.04 346.85v-12.10h2.25v12.10zM652.60 347.15v-11.90h2.25v11.90zM656.17 351.15v-9.80h2.25v9.80zM659.73 351.75v-9.00h2.25v9.00zM663.29 350.05v-8.70h2.25v8.70zM666.85 352.85v-7.10h2.25v7.10zM670.42 354.75v-7.30h2.25v7.30zM673.98 357.85v-5.70h2.25v5.70zM677.54 361.75v-4.20h2.25v4.20zM681.11 361.25v-3.10h2.25v3.10zM684.67 361.55v-2.60h2.25v2.60zM688.23 359.95v-2.60h2.25v2.60zM691.79 358.25v-3.00h2.25v3.00zM695.36 358.35v-3.40h2.25v3.40zM698.92 360.95v-3.70h2.25v3.70zM702.48 357.55v-4.30h2.25v4.30zM706.05 355.55v-5.50h2.25v5.50zM709.61 347.75v-7.80h2.25v7.80zM713.17 349.65v-8.00h2.25v8.00zM716.74 345.05v-7.50h2.25v7.50zM720.30 350.25v-6.60h2.25v6.60zM723.86 351.45v-6.20h2.25v6.20zM727.42 345.95v-8.70h2.25v8.70zM730.99 346.85v-10.50h2.25v10.50zM734.55 348.65v-11.60h2.25v11.60zM738.11 348.65v-10.70h2.25v10.70zM741.68 350.85v-9.20h2.25v9.20zM745.24 353.25v-8.70h2.25v8.70zM748.80 353.85v-8.20h2.25v8.20zM752.36 353.95v-7.10h2.25v7.10zM755.93 355.95v-6.00h2.25v6.00zM759.49 356.25v-5.30h2.25v5.30zM763.05 361.75v-4.40h2.25v4.40zM766.62 361.55v-3.50h2.25v3.50zM770.18 364.25v-2.00h2.25v2.00zM773.74 362.75v-2.40h2.25v2.40zM777.30 361.85v-2.40h2.25v2.40zM780.87 358.75v-2.70h2.25v2.70zM784.43 363.35v-2.70h2.25v2.70zM787.99 360.85v-3.30h2.25v3.30zM791.56 356.65v-4.80h2.25v4.80zM795.12 348.95v-6.00h2.25v6.00zM798.68 348.05v-7.00h2.25v7.00zM802.24 349.15v-6.60h2.25v6.60zM805.81 352.05v-5.20h2.25v5.20zM809.37 351.95v-4.80h2.25v4.80zM812.93 348.95v-5.80h2.25v5.80zM816.50 352.15v-8.00h2.25v8.00zM820.06 351.05v-8.10h2.25v8.10zM823.62 353.75v-7.80h2.25v7.80zM827.18 355.75v-6.10h2.25v6.10zM830.75 355.05v-6.10h2.25v6.10zM834.31 356.95v-6.00h2.25v6.00zM837.87 358.95v-4.50h2.25v4.50zM841.44 358.95v-4.10h2.25v4.10zM845.00 360.85v-2.70h2.25v2.70zM848.56 361.75v-2.10h2.25v2.10zM852.13 362.95v-1.40h2.25v1.40zM855.69 363.75v-0.90h2.25v0.90zM859.25 365.45v-0.70h2.25v0.70zM862.81 366.45v-0.30h2.25v0.30zM866.38 365.45v-0.30h2.25v0.30zM869.94 365.45v-0.30h2.25v0.30zM873.50 366.85v-0.30h2.25v0.30zM877.07 364.85v-0.30h2.25v0.30zM880.63 362.25v-0.50h2.25v0.50zM884.19 362.65v-0.50h2.25v0.50zM887.75 359.95v-0.50h2.25v0.50zM891.32 362.85v-0.40h2.25v0.40zM894.88 359.65v-0.60h2.25v0.60zM898.44 361.35v-0.50h2.25v0.50zM902.01 361.45v-0.40h2.25v0.40zM905.57 362.35v-0.40h2.25v0.40zM909.13 360.95v-0.50h2.25v0.50zM912.69 359.75v-0.50h2.25v0.50zM916.26 361.45v-0.40h2.25v0.40zM919.82 360.65v-0.50h2.25v0.50zM923.38 362.45v-0.50h2.25v0.50zM926.95 362.55v-0.40h2.25v0.40zM930.51 363.65v-0.30h2.25v0.30zM934.07 364.75v-0.30h2.25v0.30zM937.63 365.75v-0.30h2.25v0.30zM941.20 365.45v-0.30h2.25v0.30zM944.76 364.55v-0.30h2.25v0.30zM948.32 366.65v-0.30h2.25v0.30zM951.89 367.35v-0.30h2.25v0.30zM955.45 365.35v-0.30h2.25v0.30zM959.01 366.45v-0.30h2.25v0.30zM962.58 365.15v-0.40h2.25v0.40zM966.14 363.45v-0.60h2.25v0.60zM969.70 361.65v-0.80h2.25v0.80zM973.26 361.85v-0.60h2.25v0.60zM976.83 360.05v-0.80h2.25v0.80zM980.39 360.75v-0.80h2.25v0.80zM983.95 360.95v-0.80h2.25v0.80zM987.52 361.65v-0.80h2.25v0.80zM991.08 360.15v-0.90h2.25v0.90zM994.64 360.95v-0.80h2.25v0.80zM998.20 359.05v-0.90h2.25v0.90zM1001.77 360.65v-0.80h2.25v0.80zM1005.33 361.95v-0.70h2.25v0.70zM1008.89 359.85v-0.80h2.25v0.80zM1012.46 362.75v-0.80h2.25v0.80zM1016.02 364.75v-0.80h2.25v0.80zM1019.58 364.25v-0.70h2.25v0.70zM1023.14 363.95v-0.90h2.25v0.90zM1026.71 364.55v-1.00h2.25v1.00zM1030.27 363.05v-1.10h2.25v1.10zM1033.83 363.05v-2.00h2.25v2.00zM1037.40 362.75v-2.60h2.25v2.60zM1040.96 362.15v-3.20h2.25v3.20zM1044.52 359.15v-3.90h2.25v3.90zM1048.08 357.35v-6.20h2.25v6.20zM1051.65 348.95v-8.10h2.25v8.10zM1055.21 347.75v-8.90h2.25v8.90zM1058.77 347.75v-8.50h2.25v8.50zM1062.34 350.55v-6.70h2.25v6.70zM1065.90 348.65v-6.10h2.25v6.10zM1069.46 348.25v-6.40h2.25v6.40zM1073.03 349.65v-6.90h2.25v6.90zM1076.59 350.55v-5.80h2.25v5.80zM1080.15 353.05v-4.60h2.25v4.60zM1083.71 356.25v-2.70h2.25v2.70zM1087.28 356.95v-2.00h2.25v2.00zM1090.84 358.55v-1.60h2.25v1.60zM1094.40 357.85v-1.40h2.25v1.40zM1097.97 358.75v-1.40h2.25v1.40zM1101.53 361.95v-1.20h2.25v1.20zM1105.09 362.95v-1.20h2.25v1.20zM1108.65 362.85v-0.90h2.25v0.90zM1112.22 364.75v-1.20h2.25v1.20zM1115.78 362.85v-1.60h2.25v1.60zM1119.34 362.75v-2.60h2.25v2.60zM1122.91 362.95v-2.60h2.25v2.60zM1126.47 363.15v-3.20h2.25v3.20zM1130.03 359.75v-3.70h2.25v3.70zM1133.59 355.55v-5.30h2.25v5.30zM1137.16 349.65v-7.80h2.25v7.80zM1140.72 348.95v-7.80h2.25v7.80zM1144.28 348.65v-7.80h2.25v7.80zM1147.85 349.95v-7.00h2.25v7.00zM1151.41 350.15v-6.00h2.25v6.00zM1154.97 347.75v-7.80h2.25v7.80zM1158.53 345.95v-10.80h2.25v10.80zM1162.10 348.35v-12.70h2.25v12.70zM1165.66 347.75v-12.40h2.25v12.40zM1169.22 352.75v-10.80h2.25v10.80zM1172.79 339.45v-9.60h2.25v9.60zM1176.35 351.45v-9.00h2.25v9.00zM1179.91 354.65v-7.80h2.25v7.80zM1183.47 355.15v-6.70h2.25v6.70zM1187.04 359.95v-5.30h2.25v5.30zM1190.60 360.65v-4.60h2.25v4.60zM1194.16 363.75v-2.90h2.25v2.90zM1197.73 361.95v-2.30h2.25v2.30zM1201.29 361.85v-2.40h2.25v2.40zM1204.85 361.85v-2.60h2.25v2.60zM1208.42 361.55v-3.20h2.25v3.20zM1211.98 361.85v-3.80h2.25v3.80zM1215.54 359.95v-4.70h2.25v4.70zM1219.10 357.65v-5.90h2.25v5.90zM1222.67 334.05v-7.80h2.25v7.80zM1226.23 342.25v-8.20h2.25v8.20zM1229.79 345.35v-7.90h2.25v7.90zM1233.36 346.85v-7.10h2.25v7.10zM1236.92 346.35v-6.40h2.25v6.40zM1240.48 345.95v-8.00h2.25v8.00zM1244.04 299.85v-10.00h2.25v10.00zM1247.61 346.85v-12.20h2.25v12.20zM1251.17 350.55v-11.30h2.25v11.30zM1254.73 350.05v-9.00h2.25v9.00zM1258.30 348.05v-8.50h2.25v8.50zM1261.86 347.45v-9.50h2.25v9.50zM1265.42 348.25v-8.00h2.25v8.00zM1268.98 348.05v-7.00h2.25v7.00zM1272.55 352.05v-4.90h2.25v4.90zM1276.11 360.65v-4.60h2.25v4.60zM1279.67 360.35v-3.20h2.25v3.20zM1283.24 363.95v-2.00h2.25v2.00zM1286.80 361.95v-2.00h2.25v2.00zM1290.36 359.65v-2.70h2.25v2.70zM1293.92 357.85v-3.20h2.25v3.20zM1297.49 359.75v-3.70h2.25v3.70zM1301.05 355.05v-3.90h2.25v3.90zM1304.61 348.65v-5.50h2.25v5.50zM1308.18 334.95v-7.30h2.25v7.30zM1311.74 331.25v-8.00h2.25v8.00zM1315.30 331.75v-7.80h2.25v7.80zM1318.87 334.95v-6.70h2.25v6.70zM1322.43 342.55v-6.40h2.25v6.40zM1325.99 340.05v-8.00h2.25v8.00zM1329.55 341.75v-10.50h2.25v10.50zM1333.12 341.95v-12.10h2.25v12.10zM1336.68 345.45v-10.50h2.25v10.50zM1340.24 347.35v-8.70h2.25v8.70zM1343.81 350.45v-8.20h2.25v8.20zM1347.37 351.75v-7.60h2.25v7.60zM1350.93 353.75v-6.90h2.25v6.90zM1354.49 352.35v-6.20h2.25v6.20zM1358.06 354.85v-4.60h2.25v4.60zM1361.62 354.15v-3.20h2.25v3.20zM1365.18 358.95v-2.70h2.25v2.70zM1368.75 359.05v-2.10h2.25v2.10zM1372.31 356.85v-2.70h2.25v2.70zM1375.87 359.75v-2.60h2.25v2.60zM1379.43 359.75v-2.50h2.25v2.50zM1383.00 361.75v-2.70h2.25v2.70zM1386.56 358.75v-3.50h2.25v3.50zM1390.12 356.95v-4.80h2.25v4.80zM1393.69 344.75v-6.10h2.25v6.10zM1397.25 341.05v-6.80h2.25v6.80zM1400.81 342.25v-6.10h2.25v6.10zM1404.37 340.75v-5.60h2.25v5.60zM1407.94 339.95v-5.00h2.25v5.00zM1411.50 338.55v-6.20h2.25v6.20zM1415.06 337.95v-7.80h2.25v7.80zM1418.63 336.45v-8.00h2.25v8.00zM1422.19 336.85v-7.40h2.25v7.40zM1425.75 339.75v-6.80h2.25v6.80zM1429.32 339.25v-6.30h2.25v6.30z"/>
<rect x="238.65" y="379.5" width="1197.13" height="1" fill="#80708f"/>
<rect x="326.0" y="380" width="1" height="3.8" fill="#80708f" opacity=".8"/>
<rect x="411.0" y="380" width="1" height="3.8" fill="#80708f" opacity=".8"/>
<rect x="497.0" y="380" width="1" height="3.8" fill="#80708f" opacity=".8"/>
<rect x="582.0" y="380" width="1" height="3.8" fill="#80708f" opacity=".8"/>
<rect x="668.0" y="380" width="1" height="3.8" fill="#80708f" opacity=".8"/>
<rect x="753.0" y="380" width="1" height="3.8" fill="#80708f" opacity=".8"/>
<rect x="839.0" y="380" width="1" height="3.8" fill="#80708f" opacity=".8"/>
<rect x="924.0" y="380" width="1" height="3.8" fill="#80708f" opacity=".8"/>
<rect x="1010.0" y="380" width="1" height="3.8" fill="#80708f" opacity=".8"/>
<rect x="1095.0" y="380" width="1" height="3.8" fill="#80708f" opacity=".8"/>
<rect x="1181.0" y="380" width="1" height="3.8" fill="#80708f" opacity=".8"/>
<rect x="1266.0" y="380" width="1" height="3.8" fill="#80708f" opacity=".8"/>
<text x="232.5" y="383.3" text-anchor="end" class="ax">0</text>
<text x="232.5" y="362.5" text-anchor="end" class="ax">30K</text>
<text x="232.5" y="341.7" text-anchor="end" class="ax">60K</text>
<text x="232.5" y="320.9" text-anchor="end" class="ax">90K</text>
<text x="232.5" y="300.1" text-anchor="end" class="ax">120K</text>
<text x="232.5" y="279.3" text-anchor="end" class="ax">150K</text>
<text x="411.5" y="396.7" text-anchor="middle" class="axx">Jun 26</text>
<text x="582.5" y="396.7" text-anchor="middle" class="axx">Jun 28</text>
<text x="753.5" y="396.7" text-anchor="middle" class="axx">Jun 30</text>
<text x="923.6" y="396.7" text-anchor="middle" class="axx">Jul 2</text>
<text x="1094.6" y="396.7" text-anchor="middle" class="axx">Jul 4</text>
<circle cx="1287.1" cy="254.6" r="3" fill="#f8b89c"/><text x="1294.2" y="257.6" textLength="38" lengthAdjust="spacingAndGlyphs" class="lg">Accepted</text>
<circle cx="1344.7" cy="254.6" r="3" fill="#fce4ef"/><text x="1351.8" y="257.6" textLength="29.9" lengthAdjust="spacingAndGlyphs" class="lg">Filtered</text>
<circle cx="1394.4" cy="254.6" r="3" fill="#f55459"/><text x="1401.7" y="257.6" textLength="33.6" lengthAdjust="spacingAndGlyphs" class="lg">Dropped</text>
</svg>
<div class="abs" style="left:196px;top:413px;width:1275px;height:1px;background:#e7e3ec"></div>
<div class="t b sub" id="drl" style="left:211.5px;top:428.2px;font-size:11px">Date Range:</div>
<div class="t" id="drv" style="left:284.5px;top:428.1px;font-size:11.38px">Jun 24 3:00 PM – Jul 8 3:00 PM (-04:00 UTC, 1h interval)</div>
<div class="t b" id="tyl" style="left:1357.5px;top:428.7px;font-size:11px;color:#3e3446">Type:</div>
<div class="t" id="tyv" style="left:1390.3px;top:428.7px;font-size:11px;color:#3e3446">Periodic</div>
<svg class="abs" style="left:1436px;top:430px" width="10" height="7" viewBox="0 0 10 7"><path d="M1.2 1.5L5 5.3 8.8 1.5" fill="none" stroke="#3e3446" stroke-width="1.2" stroke-linecap="round" stroke-linejoin="round"/></svg>

<!-- ===================== SEARCH ===================== -->
<div class="box" style="left:195px;top:466px;width:1277px;height:31px"></div>
<svg class="abs" style="left:205px;top:475px" width="14" height="14" viewBox="0 0 14 14"><circle cx="5.6" cy="5.6" r="4" fill="none" stroke="#80708f" stroke-width="1.2"/><path d="M8.6 8.6l3.6 3.6" stroke="#80708f" stroke-width="1.3" stroke-linecap="round"/></svg>
<div class="t sub" id="ph" style="left:224.8px;top:476.8px;font-size:11.45px">Filter your projects</div>

<!-- ===================== TABLE ===================== -->
<div class="box" style="left:195px;top:510px;width:1277px;height:230px;overflow:hidden"><div style="height:35px;background:#faf9fb;border-bottom:1px solid #e7e3ec"></div></div>
<div class="th" id="th0" style="margin-top:.6px;left:208px;top:523px">PROJECT</div>
<div class="th" id="th1" style="margin-top:.6px;right:calc(1484px - 1236px);top:523px">TOTAL</div>
<svg class="abs" style="left:1238.5px;top:522px" width="9" height="11" viewBox="0 0 9 11"><path d="M4.5 1v8.2M1.2 6.2l3.3 3.3 3.3-3.3" fill="none" stroke="#80708f" stroke-width="1.1" stroke-linecap="round" stroke-linejoin="round"/></svg>
<div class="th" id="th2" style="margin-top:.6px;right:calc(1484px - 1321.5px);top:523px">ACCEPTED</div>
<div class="th" id="th3" style="margin-top:.6px;right:calc(1484px - 1389.5px);top:523px">FILTERED</div>
<div class="th" id="th4" style="margin-top:.6px;right:calc(1484px - 1458px);top:523px">DROPPED</div>
<svg class="abs" style="left:208px;top:560.8px" width="13" height="13" viewBox="0 0 13 13"><rect width="13" height="13" rx="2.500" fill="#0c0a0e"/><circle cx="6.500" cy="6.500" r="4.200" fill="none" stroke="#fff" stroke-width="1"/><path d="M5.200 8.600V4.600h1.600a1.100 1.100 0 0 1 0 2.200H5.200M6.800 6.800l1.200 1.800" fill="none" stroke="#fff" stroke-width=".9"/></svg>
<div class="lnk" id="p0" style="top:561.2px;transform:scaleX(1.003)">relay-oss</div>
<svg class="abs" style="left:286.5px;top:560.8px" width="13" height="13" viewBox="0 0 13 13" fill="none" stroke="#80708f" stroke-width="1.2" stroke-linejoin="round"><path d="M5.54 0.98L7.46 0.98L7.70 2.37L8.57 2.73L9.72 1.92L11.08 3.28L10.27 4.43L10.63 5.30L12.02 5.54L12.02 7.46L10.63 7.70L10.27 8.57L11.08 9.72L9.72 11.08L8.57 10.27L7.70 10.63L7.46 12.02L5.54 12.02L5.30 10.63L4.43 10.27L3.28 11.08L1.92 9.72L2.73 8.57L2.37 7.70L0.98 7.46L0.98 5.54L2.37 5.30L2.73 4.43L1.92 3.28L3.28 1.92L4.43 2.73L5.30 2.37z"/><circle cx="6.500" cy="6.500" r="1.800"/></svg>
<div class="num" style="right:237px;top:561.1px">4.7M</div>
<div class="num" style="right:162.5px;top:561.1px">4.7M</div>
<div class="num" style="right:94.5px;top:561.1px">0</div>
<div class="num" style="right:26px;top:561.1px">0</div>
<div class="rowline" style="top:589.4px"></div>
<svg class="abs" style="left:208px;top:605.1px" width="13" height="13" viewBox="0 0 13 13"><rect width="13" height="13" rx="2.500" fill="#0c0a0e"/><path d="M4.600 4.800L2.900 6.500l1.700 1.700M8.400 4.800l1.700 1.700-1.700 1.700M7.300 3.900L5.700 9.100" fill="none" stroke="#fff" stroke-width=".95" stroke-linecap="round" stroke-linejoin="round"/></svg>
<div class="lnk" id="p1" style="top:605.5px;transform:scaleX(1.056)">www-csp</div>
<svg class="abs" style="left:289.5px;top:605.1px" width="13" height="13" viewBox="0 0 13 13" fill="none" stroke="#80708f" stroke-width="1.2" stroke-linejoin="round"><path d="M5.54 0.98L7.46 0.98L7.70 2.37L8.57 2.73L9.72 1.92L11.08 3.28L10.27 4.43L10.63 5.30L12.02 5.54L12.02 7.46L10.63 7.70L10.27 8.57L11.08 9.72L9.72 11.08L8.57 10.27L7.70 10.63L7.46 12.02L5.54 12.02L5.30 10.63L4.43 10.27L3.28 11.08L1.92 9.72L2.73 8.57L2.37 7.70L0.98 7.46L0.98 5.54L2.37 5.30L2.73 4.43L1.92 3.28L3.28 1.92L4.43 2.73L5.30 2.37z"/><circle cx="6.500" cy="6.500" r="1.800"/></svg>
<div class="num" style="right:237px;top:605.4px">3.7M</div>
<div class="num" style="right:162.5px;top:605.4px">3.6M</div>
<div class="num" style="right:94.5px;top:605.4px">6K</div>
<div class="num" style="right:26px;top:605.4px">0</div>
<div class="rowline" style="top:633.7px"></div>
<svg class="abs" style="left:208px;top:649.5px" width="13" height="13" viewBox="0 0 13 13"><rect width="13" height="13" rx="2.500" fill="#0c0a0e"/><path d="M4.600 4.800L2.900 6.500l1.700 1.700M8.400 4.800l1.700 1.700-1.700 1.700M7.300 3.900L5.700 9.100" fill="none" stroke="#fff" stroke-width=".95" stroke-linecap="round" stroke-linejoin="round"/></svg>
<div class="lnk" id="p2" style="top:649.9px;transform:scaleX(1.05)">sentry-csp</div>
<svg class="abs" style="left:296.5px;top:649.5px" width="13" height="13" viewBox="0 0 13 13" fill="none" stroke="#80708f" stroke-width="1.2" stroke-linejoin="round"><path d="M5.54 0.98L7.46 0.98L7.70 2.37L8.57 2.73L9.72 1.92L11.08 3.28L10.27 4.43L10.63 5.30L12.02 5.54L12.02 7.46L10.63 7.70L10.27 8.57L11.08 9.72L9.72 11.08L8.57 10.27L7.70 10.63L7.46 12.02L5.54 12.02L5.30 10.63L4.43 10.27L3.28 11.08L1.92 9.72L2.73 8.57L2.37 7.70L0.98 7.46L0.98 5.54L2.37 5.30L2.73 4.43L1.92 3.28L3.28 1.92L4.43 2.73L5.30 2.37z"/><circle cx="6.500" cy="6.500" r="1.800"/></svg>
<div class="num" style="right:237px;top:649.8px">2.5M</div>
<div class="num" style="right:162.5px;top:649.8px">233K</div>
<div class="num" style="right:94.5px;top:649.8px">33K</div>
<div class="num" style="right:26px;top:649.8px">2.2M</div>
<div class="rowline" style="top:678.0px"></div>
<svg class="abs" style="left:208px;top:693.8px" width="13" height="13" viewBox="0 0 13 13"><rect width="13" height="13" rx="2.500" fill="#0c0a0e"/><path d="M4.600 4.800L2.900 6.500l1.700 1.700M8.400 4.800l1.700 1.700-1.700 1.700M7.300 3.900L5.700 9.100" fill="none" stroke="#fff" stroke-width=".95" stroke-linecap="round" stroke-linejoin="round"/></svg>
<div class="lnk" id="p3" style="top:694.2px;transform:scaleX(1.029)">docs-csp</div>
<svg class="abs" style="left:287.5px;top:693.8px" width="13" height="13" viewBox="0 0 13 13" fill="none" stroke="#80708f" stroke-width="1.2" stroke-linejoin="round"><path d="M5.54 0.98L7.46 0.98L7.70 2.37L8.57 2.73L9.72 1.92L11.08 3.28L10.27 4.43L10.63 5.30L12.02 5.54L12.02 7.46L10.63 7.70L10.27 8.57L11.08 9.72L9.72 11.08L8.57 10.27L7.70 10.63L7.46 12.02L5.54 12.02L5.30 10.63L4.43 10.27L3.28 11.08L1.92 9.72L2.73 8.57L2.37 7.70L0.98 7.46L0.98 5.54L2.37 5.30L2.73 4.43L1.92 3.28L3.28 1.92L4.43 2.73L5.30 2.37z"/><circle cx="6.500" cy="6.500" r="1.800"/></svg>
<div class="num" style="right:237px;top:694.1px">2.2M</div>
<div class="num" style="right:162.5px;top:694.1px">2.2M</div>
<div class="num" style="right:94.5px;top:694.1px">2K</div>
<div class="num" style="right:26px;top:694.1px">0</div>
<div class="rowline" style="top:722.4px"></div>

</div>
</body>
</html>
